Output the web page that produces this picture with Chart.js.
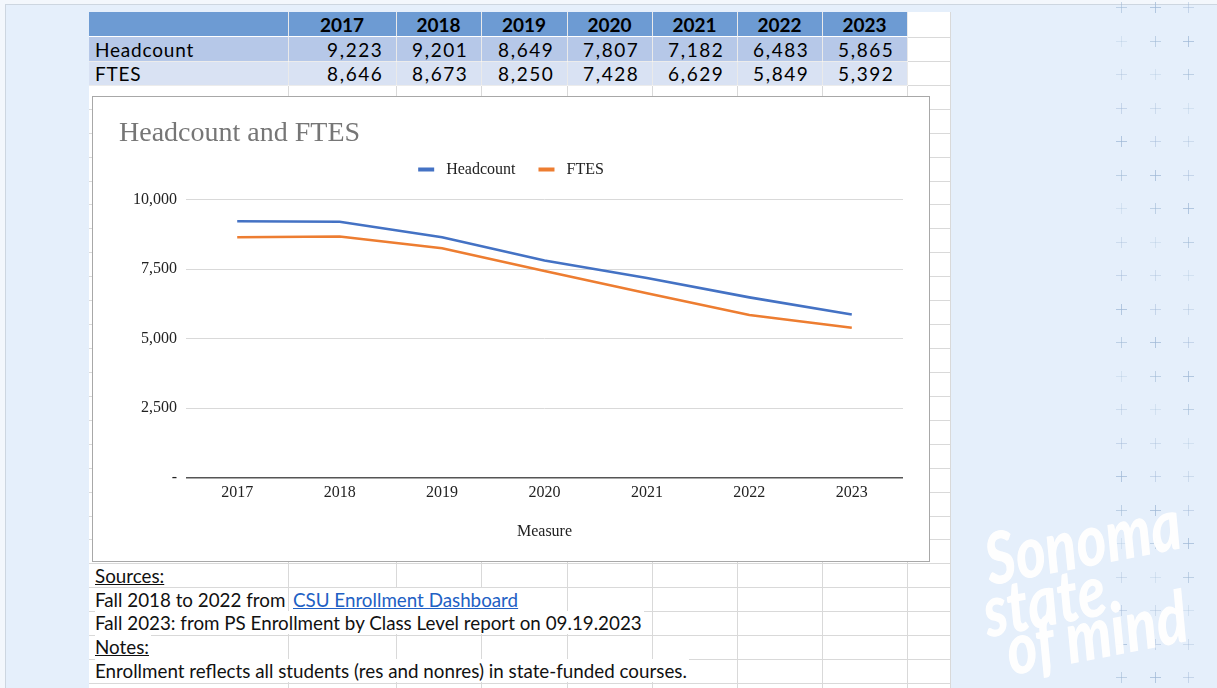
<!DOCTYPE html>
<html><head><meta charset="utf-8">
<script src="https://cdn.jsdelivr.net/npm/chart.js@4.4.0/dist/chart.umd.min.js"></script>
<style>
html,body{margin:0;padding:0;}
body{width:1217px;height:688px;overflow:hidden;background:#f3f7fc;position:relative;font-family:Lato,"Liberation Sans",sans-serif;}
#slide{position:absolute;left:5px;top:4px;right:0;bottom:0;border-left:1px solid #cdd6e0;border-top:1px solid #cdd6e0;background:#e5effb;}
#sheet{position:absolute;left:89px;top:12px;width:862px;height:676px;background-color:#fff;
 background-image:repeating-linear-gradient(to bottom, transparent 0, transparent 22.93px, #d9d9d9 22.93px, #d9d9d9 23.93px);
 background-position:0 2px;overflow:hidden;}
.vl{position:absolute;top:0;bottom:0;width:1px;background:#d9d9d9;}
#tbl{position:absolute;left:0;top:0;border-collapse:collapse;table-layout:fixed;font-size:19px;color:#000;}
#tbl td{padding:0;white-space:nowrap;overflow:hidden;border-right:1px solid rgba(255,255,255,0.45);border-bottom:1px solid rgba(255,255,255,0.5);}
#tbl tr.h td{background:#6d9bd3;font-weight:bold;text-align:center;height:24px;}
#tbl tr.r1 td{background:#b6c8e8;height:24px;}
#tbl tr.r2 td{background:#d9e2f3;height:23px;}
#tbl td.lab{text-align:left;padding-left:6px;letter-spacing:0.8px;}
#tbl td.num{text-align:right;padding-right:12px;letter-spacing:1.6px;}
.txt{position:absolute;height:23px;line-height:23px;font-size:18.8px;color:#111;white-space:nowrap;}
.txt span{background:#fff;padding-right:2px;}
.u{text-decoration:underline;}
.lnk{color:#2160c4;text-decoration:underline;}
#chartbox{position:absolute;left:92px;top:96px;width:838px;height:466px;box-sizing:border-box;border:1px solid #a8a8a8;background:#fff;}
#chartbox canvas{display:block;}
.cr{position:absolute;background:#9db6d4;}
.brand{position:absolute;color:#fff;font-family:Lato,sans-serif;font-weight:900;font-style:italic;font-size:72px;line-height:1;white-space:nowrap;transform-origin:0 50%;opacity:0.97;}
</style>
</head><body>
<div id="slide"></div>
<div id="deco"></div>
<div id="sheet">
  <table id="tbl"><colgroup>
    <col style="width:199px"><col style="width:108px"><col style="width:85px"><col style="width:86px">
    <col style="width:85px"><col style="width:85px"><col style="width:85px"><col style="width:85px">
  </colgroup><tbody id="tbody"></tbody></table>
  <div class="txt" style="left:6px;top:552px;"><span class="u">Sources:</span></div>
  <div class="txt" style="left:6px;top:576px;"><span>Fall 2018 to 2022 from</span></div>
  <div class="txt" style="left:204px;top:576px;"><span class="lnk">CSU Enrollment Dashboard</span></div>
  <div class="txt" style="left:6px;top:599px;"><span>Fall 2023: from PS Enrollment by Class Level report on 09.19.2023</span></div>
  <div class="txt" style="left:6px;top:623px;"><span class="u">Notes:</span></div>
  <div class="txt" style="left:6px;top:647px;"><span>Enrollment reflects all students (res and nonres) in state-funded courses.</span></div>
</div>
<div id="chartbox"><canvas id="c" width="836" height="464"></canvas></div>
<div class="brand" style="left:985px;top:522px;transform:rotate(-11deg) scaleX(0.8);">Sonoma</div>
<div class="brand" style="left:983px;top:574px;transform:rotate(-11deg) scaleX(0.8);">state</div>
<div class="brand" style="left:1006px;top:612px;transform:rotate(-11deg) scaleX(0.8);">of mind</div>
<script>
// ---- data ----
const years = ['2017','2018','2019','2020','2021','2022','2023'];
const headcount = [9223, 9201, 8649, 7807, 7182, 6483, 5865];
const ftes = [8646, 8673, 8250, 7428, 6629, 5849, 5392];
const seriesNames = ['Headcount', 'FTES'];
const yTicks = [0, 2500, 5000, 7500, 10000];

// ---- spreadsheet ----
const sheet = document.getElementById('sheet');
[199,307,392,478,563,648,733,818,861].forEach(x=>{
  const d=document.createElement('div');d.className='vl';d.style.left=x+'px';sheet.insertBefore(d,sheet.firstChild);
});
const fmt = v => v.toLocaleString('en-US');
const tb = document.getElementById('tbody');
let html = '<tr class="h"><td></td>' + years.map(y=>'<td>'+y+'</td>').join('') + '</tr>';
html += '<tr class="r1"><td class="lab">'+seriesNames[0]+'</td>' + headcount.map(v=>'<td class="num">'+fmt(v)+'</td>').join('') + '</tr>';
html += '<tr class="r2"><td class="lab">'+seriesNames[1]+'</td>' + ftes.map(v=>'<td class="num">'+fmt(v)+'</td>').join('') + '</tr>';
tb.innerHTML = html;

// ---- decorative crosses ----
const deco = document.getElementById('deco');
const cx = [1121, 1154.5, 1188, 1221.5];
for (let r=0;r<21;r++){
  for (let c=0;c<cx.length;c++){
    const y = 7 + r*33.5, x = cx[c];
    const op = [0.55,0.35,0.7,0.25,0.45][(r*3+c*2)%5];
    const h=document.createElement('div');h.className='cr';
    h.style.cssText='left:'+(x-5)+'px;top:'+y+'px;width:11px;height:1px;opacity:'+op;
    const v=document.createElement('div');v.className='cr';
    v.style.cssText='left:'+x+'px;top:'+(y-5)+'px;width:1px;height:11px;opacity:'+op;
    deco.appendChild(h);deco.appendChild(v);
  }
}

// ---- chart ----
Chart.defaults.font.family = '"Liberation Serif", "Times New Roman", serif';
Chart.defaults.color = '#222';
const blue = '#4472c4', orange = '#ed7d31';
new Chart(document.getElementById('c'), {
  type: 'line',
  data: {
    labels: years,
    datasets: [
      {label: seriesNames[0], data: headcount, borderColor: blue, backgroundColor: blue, borderWidth: 2.6, pointRadius: 0, tension: 0},
      {label: seriesNames[1], data: ftes, borderColor: orange, backgroundColor: orange, borderWidth: 2.6, pointRadius: 0, tension: 0}
    ]
  },
  options: {
    responsive: false, animation: false, devicePixelRatio: 1,
    layout: {padding: {left: 26, right: 26, top: 0, bottom: 0}},
    plugins: {
      title: {display: true, text: 'Headcount and FTES', align: 'start', color: '#767676',
        font: {size: 28, weight: 'normal'}, padding: {top: 20, bottom: 0}},
      subtitle: {display: true, text: ' ', weight: 500, font: {size: 1, lineHeight: 1}, padding: {top: 11, bottom: 0}},
      legend: {display: true, position: 'top', align: 'center',
        labels: {boxWidth: 16, boxHeight: 4, padding: 11, color: '#222', font: {size: 16},
          generateLabels(chart) {
            const items = Chart.defaults.plugins.legend.labels.generateLabels(chart);
            items.forEach((i, k) => { i.lineWidth = 0; i.text = ' ' + i.text + (k < items.length - 1 ? '   ' : ''); });
            return items;
          }}},
      tooltip: {enabled: false}
    },
    scales: {
      x: {offset: true, grid: {display: false, drawTicks: false}, border: {display: false},
        ticks: {padding: 6, maxRotation: 0, font: {size: 16}, color: '#222'},
        title: {display: true, text: 'Measure', color: '#222', font: {size: 16}, padding: {top: 13, bottom: 20}}},
      y: {min: 0, max: 10000,
        afterFit(s) { s.width = 67; },
        afterBuildTicks(s) { s.ticks = yTicks.map(v => ({value: v})); },
        border: {display: false},
        grid: {drawTicks: false, lineWidth: ctx => ctx.tick && ctx.tick.value === 0 ? 1.5 : 1,
          color: ctx => ctx.tick && ctx.tick.value === 0 ? '#555555' : '#d9d9d9'},
        ticks: {padding: 9, font: {size: 16}, color: '#222',
          callback: v => v === 0 ? '-' : Number(v).toLocaleString('en-US')}}
    }
  }
});
</script>
</body></html>
